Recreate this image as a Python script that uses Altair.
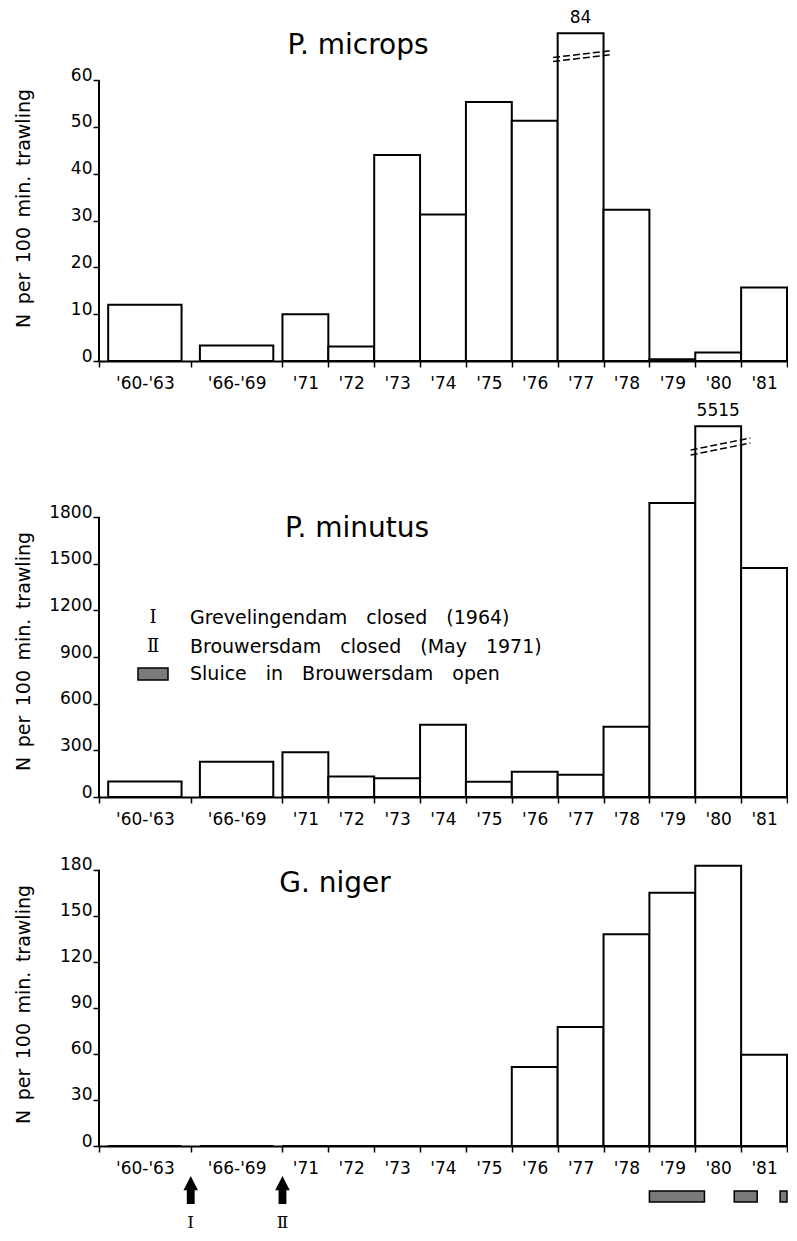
import json
import altair as alt
import pandas as pd

# ---------------- data ----------------
periods = ["'60-'63", "'66-'69", "'71", "'72", "'73", "'74", "'75",
           "'76", "'77", "'78", "'79", "'80", "'81"]
# span of each period on the time axis (axis units: 1 unit = 1 year column)
span_lo = [0, 2, 4, 5, 6, 7, 8, 9, 10, 11, 12, 13, 14]
span_hi = [2, 4, 5, 6, 7, 8, 9, 10, 11, 12, 13, 14, 15]

microps = [12.0, 3.3, 10.0, 3.1, 44.0, 31.3, 55.3, 51.3, 84.0, 32.3, 0.4, 1.8, 15.7]
minutus = [100, 227, 287, 131, 120, 465, 98, 163, 143, 452, 1890, 5515, 1472]
niger = [0, 0, 0, 0, 0, 0, 0, 51.5, 77.6, 138, 165, 182.6, 59.5]

ticks_microps = [0, 10, 20, 30, 40, 50, 60]
ticks_minutus = [0, 300, 600, 900, 1200, 1500, 1800]
ticks_niger = [0, 30, 60, 90, 120, 150, 180]

event_sym = ["I", "\u2161"]
event_pos = [2, 4]
event_desc = ["Grevelingendam closed (1964)", "Brouwersdam closed (May 1971)"]
sluice_lo = [12.0, 13.85, 14.85]
sluice_hi = [13.2, 14.35, 15.0]
sluice_desc = "Sluice in Brouwersdam open"

y_title = "N per 100 min. trawling"

# ---------------- style / layout ----------------
FONT = "DejaVu Sans"
SERIF = "DejaVu Serif"
W = 688


def spaced(s, sp="\u2002"):
    return s.replace(" ", sp)


centers = [(a + b) / 2 for a, b in zip(span_lo, span_hi)]
bounds = sorted(set(span_lo + span_hi))
centers_js = json.dumps(centers)
labels_js = json.dumps(periods)
is_center = f"indexof({centers_js}, datum.value) >= 0"
label_expr = f"{is_center} ? {labels_js}[indexof({centers_js}, datum.value)] : ''"

x_scale = alt.Scale(domain=[0, 15], nice=False, zero=False)
x_axis = alt.Axis(values=bounds + centers, labelExpr=label_expr, title=None, grid=False,
                  domainWidth=2, domainColor="black", tickColor="black", tickWidth=1.5,
                  tickSize=6,
                  tickOpacity={"condition": {"test": is_center, "value": 0}, "value": 1},
                  labelPadding=8, labelFontSize=17, labelFont=FONT, labelColor="black",
                  labelOverlap=False, labelFlush=False, labelBaseline="top", zindex=1)


def X(f):
    return alt.X(f, type="quantitative", scale=x_scale, axis=x_axis)


def panel(values, ticks, ppu, H, title, title_x, title_rel, ytitle_rel,
          cap=None, brk=None, rise=0, gap=0, cap_dy=-18, extra=None):
    D = H / ppu
    ys = alt.Scale(domain=[0, D], nice=False, zero=False)
    ya = alt.Axis(values=ticks, format="d", title=spaced(y_title), grid=False, domain=False,
                  tickSize=6, tickWidth=1.5, tickColor="black", labelFontSize=17,
                  labelFont=FONT, labelColor="black", labelBaseline="alphabetic",
                  labelPadding=1, titleFont=FONT, titleFontSize=19,
                  titleFontWeight="normal", titleColor="black", titleAngle=270,
                  titleX=-76, titleY=H + ytitle_rel, titleAlign="center",
                  titleBaseline="middle", zindex=1)

    def Y(f):
        return alt.Y(f, type="quantitative", scale=ys, axis=ya)

    shown = [min(v, cap) if cap else v for v in values]
    inset = [0.2 if hi - lo > 1 else 0.0 for lo, hi in zip(span_lo, span_hi)]
    df = pd.DataFrame({
        "period": periods,
        "lo": [lo + i for lo, i in zip(span_lo, inset)],
        "hi": [hi - i for hi, i in zip(span_hi, inset)],
        "value": values,
        "shown": shown,
        "base": [0] * len(values),
        "center": centers,
    })
    bars = alt.Chart(df).mark_rect(fill="white", stroke="black", strokeWidth=2).encode(
        x=X("lo"), x2="hi", y=Y("shown"), y2="base")
    yrule = alt.Chart(pd.DataFrame({"a": [ticks[0]], "b": [ticks[-1]]})).mark_rule(
        color="black", strokeWidth=2).encode(x=alt.value(0), y=Y("a"), y2="b")
    ttl = alt.Chart(pd.DataFrame({"t": [title]})).mark_text(
        font=FONT, fontSize=28, color="black", align="center", baseline="middle").encode(
        text="t:N", x=alt.value(title_x), y=alt.value(H + title_rel))
    layers = [bars, yrule, ttl]
    if cap:
        big = df[df["value"] > cap]
        rows = []
        for _, r in big.iterrows():
            for k in (0, 1):
                rows.append({"x1": r["lo"] - 0.1, "x2": r["hi"] + 0.2,
                             "y1": brk - rise / 2 / ppu + k * gap / ppu,
                             "y2": brk + rise / 2 / ppu + k * gap / ppu})
        brk_layer = alt.Chart(pd.DataFrame(rows)).mark_rule(
            color="black", strokeWidth=1.5, strokeDash=[7, 3]).encode(
            x=X("x1"), x2="x2", y=Y("y1"), y2="y2")
        lab = alt.Chart(big).mark_text(font=FONT, fontSize=17, color="black",
                                       baseline="middle", dy=cap_dy).encode(
            x=X("center"), y=Y("shown"), text=alt.Text("value:Q", format="d"))
        layers += [brk_layer, lab]
    if extra:
        layers += extra(H, X)
    return alt.layer(*layers).properties(width=W, height=H)


# ---------------- panel 2 legend ----------------
def legend_layers(H, X):
    out = []
    rows_rel = [-179, -150]
    for sym, desc, rel in zip(event_sym, event_desc, rows_rel):
        d = pd.DataFrame({"s": [sym], "d": [spaced(desc, "\u2003")]})
        out.append(alt.Chart(d).mark_text(font=SERIF, fontSize=18, color="black",
                                          align="center", baseline="middle").encode(
            text="s:N", x=alt.value(54), y=alt.value(H + rel)))
        out.append(alt.Chart(d).mark_text(font=FONT, fontSize=19, color="black",
                                          align="left", baseline="middle").encode(
            text="d:N", x=alt.value(91), y=alt.value(H + rel)))
    d = pd.DataFrame({"d": [spaced(sluice_desc, "\u2003")]})
    out.append(alt.Chart(d).mark_rect(fill="#7a7a7a", stroke="black", strokeWidth=1.5).encode(
        x=alt.value(39), x2=alt.value(69), y=alt.value(H - 129), y2=alt.value(H - 117)))
    out.append(alt.Chart(d).mark_text(font=FONT, fontSize=19, color="black",
                                      align="left", baseline="middle").encode(
        text="d:N", x=alt.value(91), y=alt.value(H - 123)))
    return out


# ---------------- panel 3 events / sluice ----------------
ARROW = "M-0.28,1 L-0.28,0.02 L-0.52,0.02 L0,-1 L0.52,0.02 L0.28,0.02 L0.28,1 Z"


def event_layers(H, X):
    ev = pd.DataFrame({"pos": event_pos, "sym": event_sym})
    sl = pd.DataFrame({"lo": sluice_lo, "hi": sluice_hi})
    arrows = alt.Chart(ev).mark_point(shape=ARROW, size=784, filled=True, color="black",
                                      opacity=1).encode(
        x=X("pos"), y=alt.value(H + 44))
    labs = alt.Chart(ev).mark_text(font=SERIF, fontSize=17, color="black",
                                   baseline="middle").encode(
        x=X("pos"), y=alt.value(H + 77), text="sym:N")
    boxes = alt.Chart(sl).mark_rect(fill="#7a7a7a", stroke="black", strokeWidth=1.5).encode(
        x=X("lo"), x2="hi", y=alt.value(H + 45), y2=alt.value(H + 56))
    return [arrows, labs, boxes]


p1 = panel(microps, ticks_microps, 281 / 60, 353, "P. microps", 259, -315, -153,
           cap=70, brk=64.7, rise=7, gap=4, cap_dy=-15)
p2 = panel(minutus, ticks_minutus, 280 / 1800, 396, "P. minutus", 258, -268, -146,
           cap=2383, brk=2237, rise=12, gap=5, cap_dy=-15, extra=legend_layers)
p3 = panel(niger, ticks_niger, 276.3 / 180, 309, "G. niger", 236, -262, -142,
           extra=event_layers)

chart = alt.vconcat(p1, p2, p3, spacing=10).properties(
    padding={"left": 6, "top": 0, "right": 0, "bottom": 0},
    background="white",
).configure_view(stroke=None)

chart.save("out.html", embed_options={"renderer": "svg", "actions": False})
